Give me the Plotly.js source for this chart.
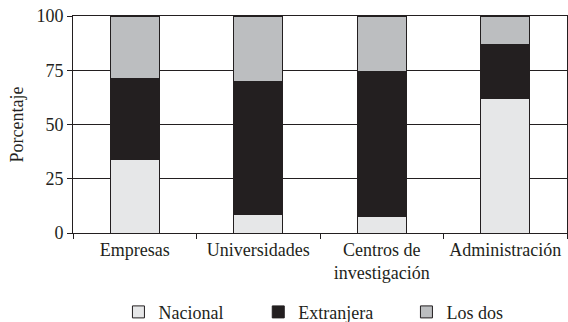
<!DOCTYPE html>
<html>
<head>
<meta charset="utf-8">
<script src="https://cdn.plot.ly/plotly-3.0.1.min.js"></script>
<style>
  html, body { margin: 0; padding: 0; background: #fff; }
  #chart { width: 568px; height: 322px; }
</style>
</head>
<body>
<div id="chart"></div>
<script>
// Stacked share (%) by sector: Nacional / Extranjera / Los dos
const categories = ['Empresas', 'Universidades', 'Centros de<br>investigación', 'Administración'];
const nacional   = [33.7, 8.4, 7.7, 62.0];
const extranjera = [37.3, 61.5, 66.7, 25.0];
const losDos     = [29.0, 30.1, 25.6, 13.0];
const yTicks     = [0, 25, 50, 75, 100];

const INK = '#231f20';
const FONT = '"Liberation Serif", "Times New Roman", Times, serif';

function series(name, values, color, legendId) {
  return {
    type: 'bar', name, x: categories, y: values, legend: legendId,
    marker: { color, line: { color: INK, width: 1 } },
  };
}

const data = [
  series('Nacional', nacional, '#e6e7e8', 'legend'),
  series('Extranjera', extranjera, INK, 'legend2'),
  series('Los dos', losDos, '#bcbec0', 'legend3'),
];

// one legend per entry so the three can sit at fixed spots under the plot
const legendBase = { orientation: 'h', xanchor: 'left', yanchor: 'middle', y: -0.365,
  bgcolor: 'rgba(0,0,0,0)', borderwidth: 0, font: { family: FONT, size: 18, color: INK } };

const layout = {
  width: 568, height: 322,
  margin: { l: 73, r: 1, t: 16, b: 89, autoexpand: false },
  paper_bgcolor: '#fff', plot_bgcolor: '#fff',
  font: { family: FONT, size: 18, color: INK },
  barmode: 'stack', bargap: 0.6,
  showlegend: true,
  legend:  Object.assign({}, legendBase, { x: 0.092 }),
  legend2: Object.assign({}, legendBase, { x: 0.375 }),
  legend3: Object.assign({}, legendBase, { x: 0.675 }),
  xaxis: {
    type: 'category', showline: true, linecolor: INK, linewidth: 1,
    ticks: 'outside', tickson: 'boundaries', ticklen: 5, tickcolor: INK,
    showgrid: false, mirror: true, automargin: false,
    tickfont: { family: FONT, size: 18, color: INK },
  },
  yaxis: {
    range: [0, 100], tickvals: yTicks, showline: true, linecolor: INK, linewidth: 1,
    ticks: 'outside', ticklen: 5, tickcolor: INK, mirror: true,
    showgrid: true, gridcolor: INK, gridwidth: 1.2, zeroline: false, automargin: false,
    tickfont: { family: FONT, size: 18, color: INK },
    title: { text: 'Porcentaje', font: { family: FONT, size: 18, color: INK }, standoff: 8 },
  },
};

Plotly.newPlot('chart', data, layout, { staticPlot: true, displayModeBar: false });
</script>
</body>
</html>
